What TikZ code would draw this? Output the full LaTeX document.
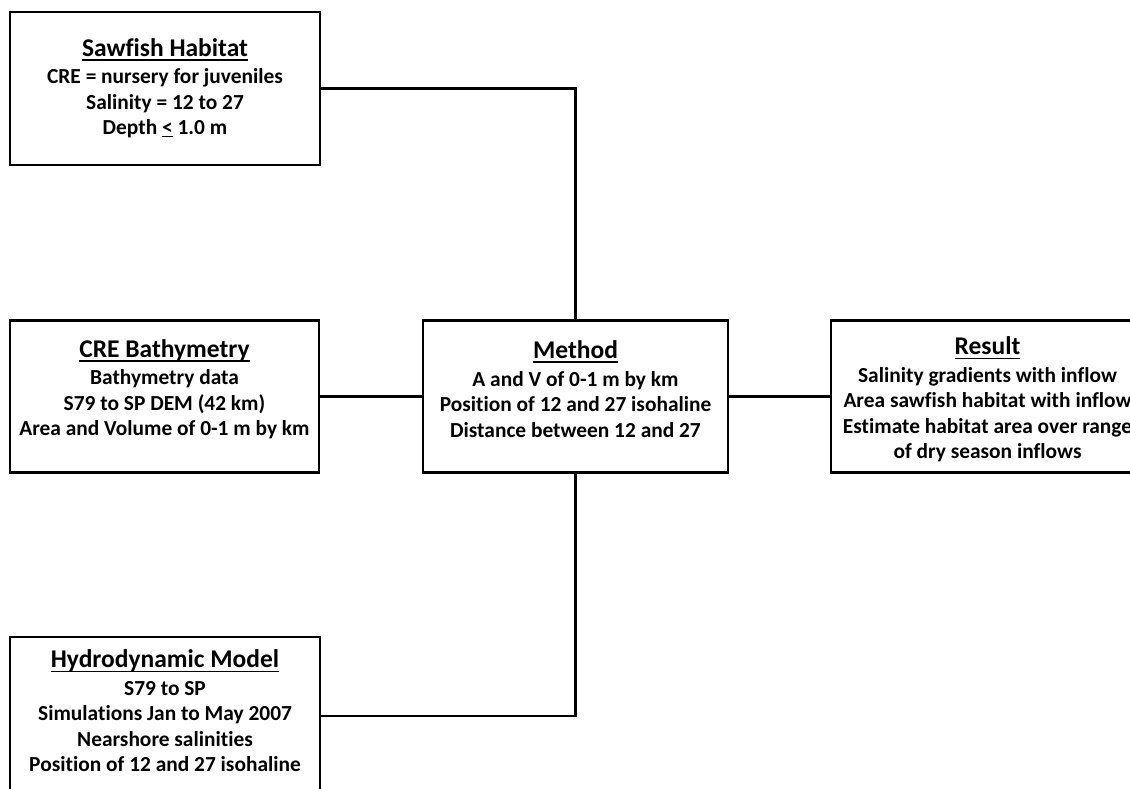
\documentclass[tikz,border=0pt]{standalone}
\usepackage{fontspec}
\setmainfont{Carlito}[Ligatures=NoCommon]
\newcommand\ttl[1]{{\fontsize{25.5}{28}\selectfont\setbox0=\hbox{#1}\rlap{\rule[-4.6pt]{\wd0}{1.8pt}}\box0}}
\begin{document}
\begin{tikzpicture}[x=1pt,y=-1pt,
  box/.style={draw, line width=2.6pt, inner sep=0pt, minimum height=152pt},
  txt/.style={align=center, inner sep=0pt, font=\bfseries\fontsize{21.4}{25.5}\selectfont},
  conn/.style={line width=2.6pt}]
\useasboundingbox (0,0) rectangle (1130,788);
\clip (0,0) rectangle (1130,788);
% boxes
\node[box, minimum width=310pt, minimum height=153pt] (saw) at (165,88.5) {};
\node[box, minimum width=309pt] (cre) at (164.5,396.5) {};
\node[box, minimum width=305pt] (meth) at (575.5,396.5) {};
\node[box, minimum width=313pt] (res) at (987.5,396.5) {};
\node[box, minimum width=310pt, minimum height=158pt] (hyd) at (165,716) {};
% texts
\node[txt] (sawt) at (165,88) {\ttl{Sawfish Habitat}\\[2pt]CRE = nursery for juveniles\\Salinity = 12 to 27\\Depth \underline{<} 1.0 m};
\node[txt] (cret) at (164.5,389) {\ttl{CRE Bathymetry}\\[2pt]Bathymetry data\\S79 to SP DEM (42 km)\\Area and Volume of 0-1 m by km};
\node[txt] (metht) at (575.5,389) {\ttl{Method}\\[2pt]A and V of 0-1 m by km\\Position of 12 and 27 isohaline\\Distance between 12 and 27};
\node[txt] (rest) at (987.5,399.5) {\ttl{Result}\\[2pt]Salinity gradients with inflow\\Area sawfish habitat with inflow\\Estimate habitat area over range\\of dry season inflows};
\node[txt] (hydt) at (165,711) {\ttl{Hydrodynamic Model}\\[2pt]S79 to SP\\Simulations Jan to May 2007\\Nearshore salinities\\Position of 12 and 27 isohaline};
% connectors
\draw[conn] (saw.east) -| (meth.north);
\draw[conn] (cre.east) -- (meth.west);
\draw[conn] (meth.east) -- (res.west);
\draw[conn] (meth.south) |- (hyd.east);
\end{tikzpicture}
\end{document}
